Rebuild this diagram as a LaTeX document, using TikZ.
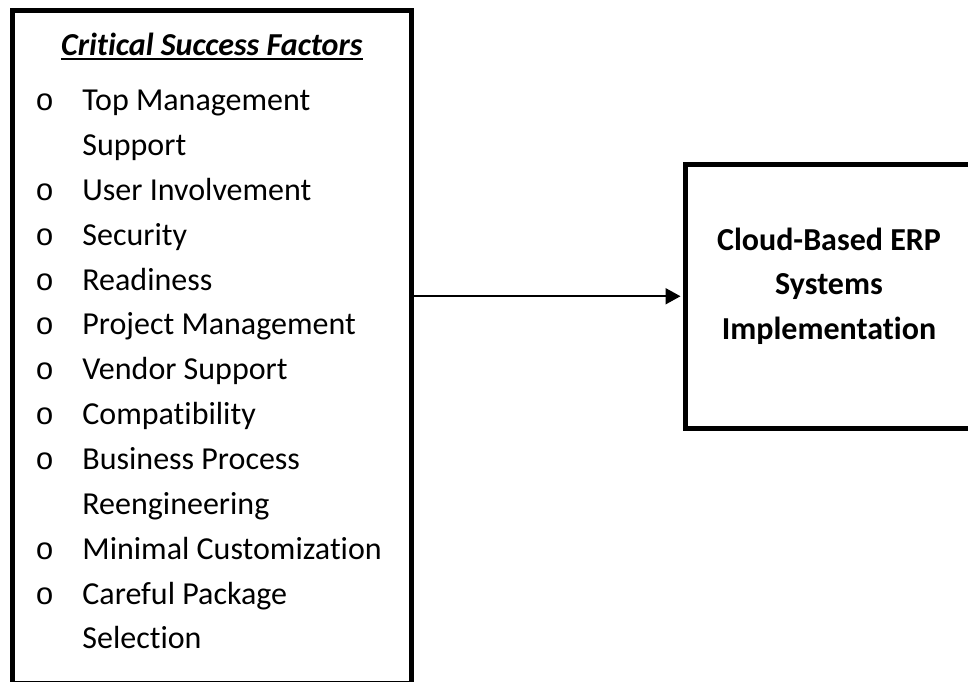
\documentclass[tikz,border=0pt]{standalone}
\usepackage{fontspec}
\setmainfont{Carlito}[Ligatures=NoCommon]
\setmonofont{Liberation Mono}
\usetikzlibrary{arrows.meta, positioning}

\begin{document}
\begin{tikzpicture}[x=0.5pt, y=-0.5pt,
    box/.style={draw, line width=2.5pt, inner sep=0pt},
    txt/.style={inner sep=0pt, font=\fontsize{16}{22.4}\selectfont},
    bul/.style={inner sep=0pt, font=\fontsize{15.5}{22.4}\selectfont\ttfamily},
    arr/.style={-{Triangle[length=7.5pt, width=8pt]}, line width=1pt, shorten >=1.25pt}
  ]
    \useasboundingbox (0,0) rectangle (968,681);
    \clip (0,0) rectangle (968,681);

    % Boxes
    \node[box, minimum width=199.75pt, minimum height=336.75pt] (factors) at (211.75,346.75) {};
    \node[box, minimum width=143.5pt, minimum height=131.75pt] (erp) at (829,296.25) {};

    % Title of the factor list
    \node[txt, font=\fontsize{16}{22.4}\selectfont\bfseries\itshape, anchor=base] (title) at (211.75,55) {Critical Success Factors};
    \draw[line width=1pt] ([yshift=-1.75pt]title.base west) -- ([yshift=-1.75pt]title.base east);

    % Factor lines and bullets
    \foreach \i/\txt in {0/Top Management, 1/Support, 2/User Involvement, 3/Security,
        4/Readiness, 5/Project Management, 6/Vendor Support, 7/Compatibility,
        8/Business Process, 9/Reengineering, 10/Minimal Customization,
        11/Careful Package, 12/Selection}
      \node[txt, anchor=base west] (line\i) at (82,{110.7+44.85*\i}) {\txt};
    \foreach \i in {0,2,3,4,5,6,7,8,10,11}
      \node[bul, anchor=base west] (bul\i) at (35,{110.7+44.85*\i}) {o};

    % Outcome text
    \node[txt, font=\fontsize{16}{22.2}\selectfont\bfseries, align=center, anchor=north] (erptext) at (829,227.5) {Cloud-Based ERP\\Systems\\Implementation};

    % Arrow
    \draw[arr] (factors.east |- erp.west) -- (erp.west);
  \end{tikzpicture}
\end{document}
